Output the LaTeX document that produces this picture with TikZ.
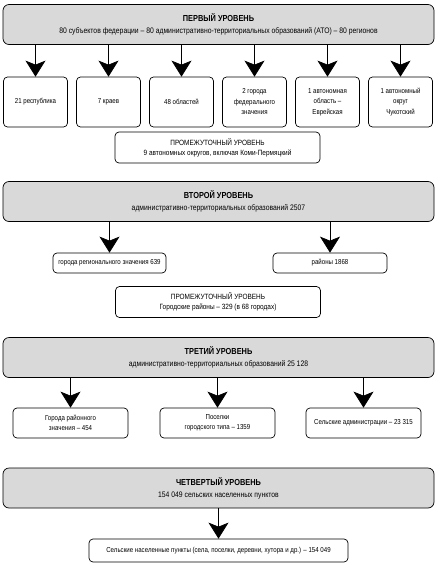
\documentclass[tikz,border=0pt]{standalone}
\usepackage{fontspec}
\setmainfont[FakeStretch=0.85]{Liberation Sans}
\usetikzlibrary{arrows.meta}

\begin{document}
\begin{tikzpicture}[x=1pt,y=-1pt,
        box/.style={draw,rounded corners=4pt,line width=0.7pt,inner sep=1pt,align=center,
            font=\fontsize{7.2}{10.5}\selectfont},
        level/.style={box,fill=gray!30,rounded corners=6pt,minimum width=431pt,minimum height=40pt,
            font=\fontsize{8}{12}\selectfont},
        middle/.style={box,minimum width=205pt,minimum height=31pt,font=\fontsize{7.6}{10}\selectfont},
        arr/.style={-{Stealth[length=16pt,width=20pt,inset=4pt]},line width=0.7pt}]
        \useasboundingbox (0, 0) rectangle (438, 566);
        \node[level] (l1) at (218.5, 24.5) {{\fontsize{8.7}{12}\selectfont\bfseries ПЕРВЫЙ УРОВЕНЬ}\\
            80 субъектов федерации -- 80 административно-территориальных образований (АТО) -- 80 регионов};
        \node[box, minimum width=64pt, minimum height=50pt] (r1) at (35.5, 102) {21 республика};
        \node[box, minimum width=64pt, minimum height=50pt] (r2) at (108.5, 102) {7 краев};
        \node[box, minimum width=64pt, minimum height=50pt] (r3) at (181.5, 102) {48 областей};
        \node[box, minimum width=64pt, minimum height=50pt] (r4) at (254.5, 102) {2 города\\ федерального\\ значения};
        \node[box, minimum width=64pt, minimum height=50pt] (r5) at (327.5, 102) {1 автономная\\ область --\\ Еврейская};
        \node[box, minimum width=64pt, minimum height=50pt] (r6) at (400.5, 102) {1 автономный\\ округ\\ Чукотский};
        \foreach \n in {1,...,6}
            \draw[arr] (l1.south -| r\n) -- (r\n.north);
        \node[middle] (m1) at (217.5, 147.5) {ПРОМЕЖУТОЧНЫЙ УРОВЕНЬ\\ 9 автономных округов, включая Коми-Пермяцкий};

        \node[level] (l2) at (218.5, 201.5) {{\fontsize{8.7}{12}\selectfont\bfseries ВТОРОЙ УРОВЕНЬ}\\
            административно-территориальных образований 2507};
        \node[box, minimum width=113pt, minimum height=20pt] (c1) at (109.5, 263) {города регионального значения 639};
        \node[box, minimum width=114pt, minimum height=20pt] (c2) at (330, 263) {районы 1868};
        \draw[arr] (l2.south -| c1) -- (c1.north);
        \draw[arr] (l2.south -| c2) -- (c2.north);
        \node[middle] (m2) at (218, 302) {ПРОМЕЖУТОЧНЫЙ УРОВЕНЬ\\ Городские районы -- 329 (в 68 городах)};

        \node[level] (l3) at (218.5, 357.5) {{\fontsize{8.7}{12}\selectfont\bfseries ТРЕТИЙ УРОВЕНЬ}\\
            административно-территориальных образований 25 128};
        \node[box, minimum width=115pt, minimum height=30pt] (t1) at (70.5, 423) {Города районного\\ значения -- 454};
        \node[box, minimum width=115pt, minimum height=30pt] (t2) at (217.5, 423) {Поселки\\ городского типа -- 1359};
        \node[box, minimum width=115pt, minimum height=30pt] (t3) at (363.5, 423) {Сельские администрации -- 23 315};
        \foreach \n in {1,2,3}
            \draw[arr] (l3.south -| t\n) -- (t\n.north);

        \node[level] (l4) at (218.5, 488) {{\fontsize{8.7}{12}\selectfont\bfseries ЧЕТВЕРТЫЙ УРОВЕНЬ}\\
            154 049 сельских населенных пунктов};
        \node[box, minimum width=259pt, minimum height=23pt] (v1) at (218.5, 550.5)
            {Сельские населенные пункты (села, поселки, деревни, хутора и др.) -- 154 049};
        \draw[arr] (l4.south -| v1) -- (v1.north);
    \end{tikzpicture}
\end{document}
